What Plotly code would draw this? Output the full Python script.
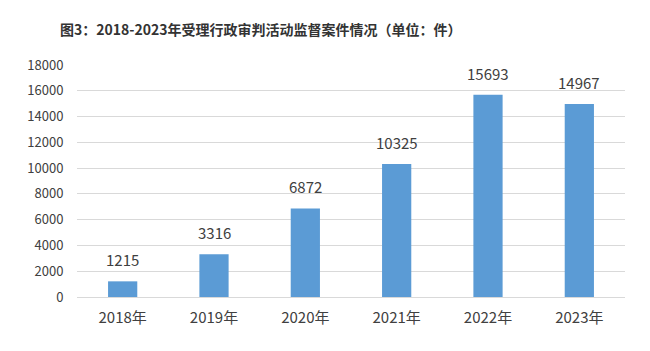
import plotly.graph_objects as go

years = ["2018年", "2019年", "2020年", "2021年", "2022年", "2023年"]
cases = [1215, 3316, 6872, 10325, 15693, 14967]
y_ticks = [0, 2000, 4000, 6000, 8000, 10000, 12000, 14000, 16000, 18000]
title_text = "图3：2018-2023年受理行政审判活动监督案件情况（单位：件）"

font_family = "Noto Sans CJK SC"
text_color = "#404040"

fig = go.Figure()
fig.add_trace(go.Bar(
    x=years, y=cases,
    marker=dict(color="#5B9BD5", line=dict(width=0)),
    width=0.32,
    hoverinfo="skip",
))

for yr, v in zip(years, cases):
    fig.add_annotation(x=yr, y=v, text=str(v), showarrow=False,
                       yanchor="bottom", yshift=9,
                       font=dict(family=font_family, size=15, color=text_color))

fig.update_layout(
    width=650, height=351,
    margin=dict(l=77, r=25, t=65, b=54),
    paper_bgcolor="white", plot_bgcolor="white",
    showlegend=False,
    title=dict(text="<b>" + title_text + "</b>", x=60/650, xanchor="left",
               xref="container",
               y=1-30/351, yanchor="middle",
               font=dict(family=font_family, size=14, color="#333333")),
    font=dict(family=font_family, color=text_color),
)
fig.update_xaxes(
    showgrid=False, showline=True, linecolor="#D9D9D9", linewidth=1,
    ticks="outside", ticklen=7, tickcolor="white",
    tickfont=dict(family=font_family, size=15, color=text_color),
)
fig.update_yaxes(
    range=[0, 18000], tickvals=y_ticks, ticktext=[str(t) for t in y_ticks],
    showgrid=True, gridcolor="#D9D9D9", gridwidth=1, zeroline=False,
    showline=False, ticks="outside", ticklen=10, tickcolor="white",
    tickfont=dict(family=font_family, size=13, color=text_color),
)

fig.write_html("out.html")
